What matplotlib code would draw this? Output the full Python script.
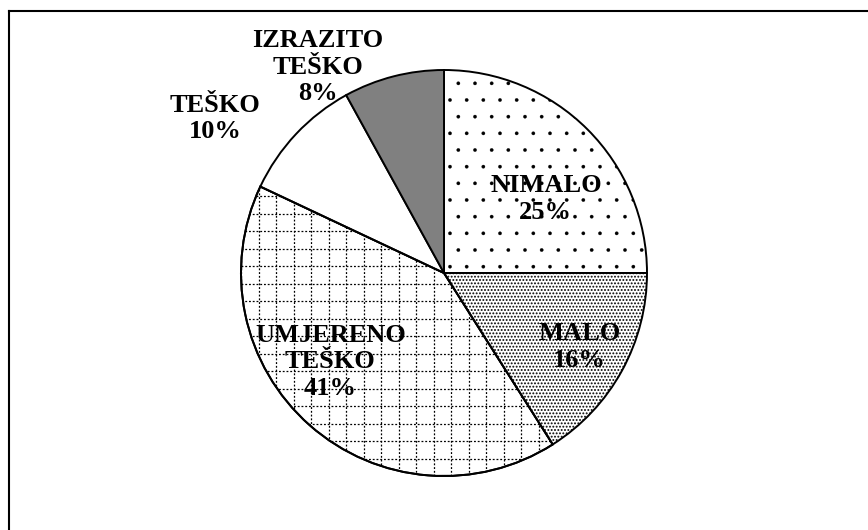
import numpy as np
import matplotlib.pyplot as plt
from matplotlib.lines import Line2D
from matplotlib.patches import PathPatch

plt.rcParams['font.family'] = ['Liberation Serif', 'DejaVu Serif']
plt.rcParams['hatch.linewidth'] = 0.3

# podaci
kategorije = ["NIMALO", "MALO", "UMJERENO\nTEŠKO", "TEŠKO", "IZRAZITO\nTEŠKO"]
postotci = [25, 16, 41, 10, 8]

# izgled isječaka
boje = ["white", "white", "white", "white", "#808080"]
srafure = [".", ".....", None, None, None]
debljina_srafure = [0.2, 0.9, 0, 0, 0]
# položaj natpisa (kut u stupnjevima, udaljenost kao dio polumjera)
natpis_kut = [36, -28.7, -142, 146, 121.5]
natpis_r = [0.62, 0.76, 0.71, 1.36, 1.19]

W, H = 868, 530
cx, cy, R = 444, 257, 203

fig = plt.figure(figsize=(W / 100, H / 100), dpi=100)
ax = fig.add_axes([0, 0, 1, 1])

wedges, _ = ax.pie(postotci, colors=boje, startangle=90, counterclock=False,
                   center=(cx, cy), radius=R, frame=True,
                   wedgeprops=dict(edgecolor="black", linewidth=1.4, zorder=2))
ax.set_xlim(0, W)
ax.set_ylim(0, H)
ax.axis("off")

for w, h, d in zip(wedges, srafure, debljina_srafure):
    if h:
        w.set_hatch(h)
        if hasattr(w, "set_hatch_linewidth"):
            w.set_hatch_linewidth(d)

# isprekidana mreža za "UMJERENO TEŠKO" (ispod obruba)
mreza = wedges[2]
mreza.set_zorder(1)
korak = 17.5
for x in np.arange(cx - R, cx + R, korak):
    ln = ax.plot([x, x], [cy - R, cy + R], color="black", lw=0.9,
                 linestyle=(0, (1.5, 1.5)), zorder=1.5)[0]
    ln.set_clip_path(mreza)
for y in np.arange(cy - R, cy + R, korak):
    ln = ax.plot([cx - R, cx + R], [y, y], color="black", lw=0.9,
                 linestyle=(0, (1.5, 1.5)), zorder=1.5)[0]
    ln.set_clip_path(mreza)
# obrub tog isječka preko mreže
ax.add_patch(PathPatch(mreza.get_path(), fill=False, edgecolor="black", lw=1.4,
                       zorder=2, transform=mreza.get_transform()))

for naziv, p, a, r in zip(kategorije, postotci, natpis_kut, natpis_r):
    x = cx + r * R * np.cos(np.radians(a))
    y = cy + r * R * np.sin(np.radians(a))
    ax.text(x, y, f"{naziv}\n{p}%", ha="center", va="center",
            fontsize=19, fontweight="bold", linespacing=1.2, zorder=3)

# okvir (lijevo i gore)
fig.add_artist(Line2D([8.5 / W, 8.5 / W], [0, 1 - 10.5 / H], color="black", lw=1.5,
                      transform=fig.transFigure))
fig.add_artist(Line2D([8.5 / W, 1], [1 - 10.5 / H, 1 - 10.5 / H], color="black", lw=1.5,
                      transform=fig.transFigure))

fig.savefig("out.png", dpi=100)
